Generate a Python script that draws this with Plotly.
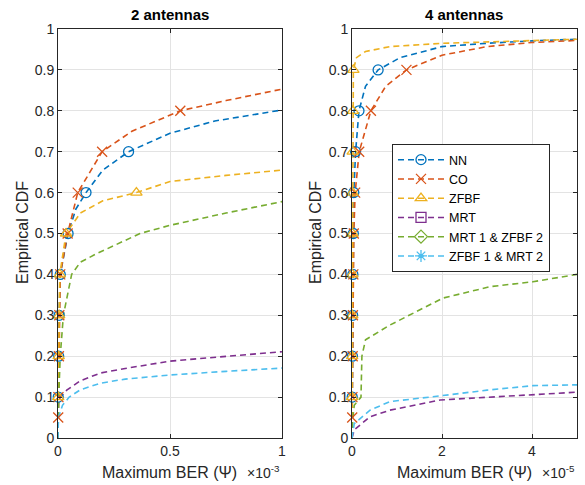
import numpy as np
import plotly.graph_objects as go

# ---------------- data (left: BER in units of 1e-3, right: BER in units of 1e-5) ----------------
series_names = ["NN", "CO", "ZFBF", "MRT", "MRT 1 & ZFBF 2", "ZFBF 1 & MRT 2"]
colors = ["#0072BD", "#D95319", "#EDB120", "#7E2F8E", "#77AC30", "#4DBEEE"]
symbols = ["circle-open", "x-thin-open", "triangle-up-open", "square-open", "diamond-open", "asterisk-open"]

# 2 antennas
L_NN_x = [0, 0.001, 0.003, 0.005, 0.01, 0.045, 0.08, 0.125, 0.2, 0.315, 0.5, 0.7, 1.0]
L_NN_y = [0, 0.1, 0.2, 0.3, 0.4, 0.5, 0.56, 0.6, 0.655, 0.7, 0.745, 0.775, 0.802]
L_CO_x = [0, 0.001, 0.002, 0.004, 0.006, 0.01, 0.043, 0.088, 0.197, 0.33, 0.546, 0.75, 1.0]
L_CO_y = [0, 0.05, 0.1, 0.2, 0.3, 0.4, 0.5, 0.6, 0.7, 0.75, 0.8, 0.825, 0.853]
L_ZF_x = [0, 0.001, 0.003, 0.005, 0.008, 0.036, 0.1, 0.2, 0.35, 0.5, 0.75, 1.0]
L_ZF_y = [0, 0.1, 0.2, 0.3, 0.4, 0.5, 0.55, 0.58, 0.6, 0.627, 0.642, 0.655]
L_MRT_x = [0, 0.002, 0.039, 0.1, 0.19, 0.3, 0.5, 0.75, 1.0]
L_MRT_y = [0, 0.095, 0.117, 0.14, 0.159, 0.17, 0.188, 0.2, 0.211]
L_MZ_x = [0, 0.003, 0.01, 0.024, 0.061, 0.1, 0.17, 0.25, 0.366, 0.5, 0.75, 1.0]
L_MZ_y = [0, 0.1, 0.2, 0.3, 0.4, 0.43, 0.45, 0.47, 0.5, 0.52, 0.55, 0.578]
L_ZM_x = [0, 0.002, 0.02, 0.05, 0.1, 0.19, 0.3, 0.5, 0.75, 1.0]
L_ZM_y = [0, 0.05, 0.08, 0.1, 0.118, 0.134, 0.144, 0.154, 0.163, 0.171]

# 4 antennas
R_NN_x = [0, 0.005, 0.01, 0.015, 0.02, 0.03, 0.04, 0.08, 0.155, 0.3, 0.58, 1.07, 2.0, 3.0, 4.0, 5.0]
R_NN_y = [0, 0.1, 0.2, 0.3, 0.4, 0.5, 0.6, 0.7, 0.8, 0.86, 0.9, 0.93, 0.957, 0.965, 0.971, 0.975]
R_CO_x = [0, 0.005, 0.01, 0.015, 0.02, 0.03, 0.04, 0.07, 0.16, 0.42, 0.75, 1.21, 2.0, 3.0, 4.0, 5.0]
R_CO_y = [0, 0.05, 0.1, 0.2, 0.3, 0.4, 0.5, 0.6, 0.7, 0.8, 0.86, 0.9, 0.936, 0.957, 0.967, 0.972]
R_ZF_x = [0, 0.002, 0.004, 0.006, 0.008, 0.01, 0.012, 0.015, 0.02, 0.03, 0.1, 0.3, 0.84, 2.0, 3.5, 5.0]
R_ZF_y = [0, 0.1, 0.2, 0.3, 0.4, 0.5, 0.6, 0.7, 0.8, 0.9, 0.93, 0.945, 0.957, 0.965, 0.97, 0.975]
R_MRT_x = [0, 0.05, 0.4, 0.84, 1.96, 3.0, 4.02, 5.0]
R_MRT_y = [0, 0.02, 0.052, 0.068, 0.093, 0.1, 0.107, 0.112]
R_MZ_x = [0, 0.02, 0.05, 0.2, 0.22, 0.3, 0.84, 1.73, 2.02, 3.07, 4.02, 5.0]
R_MZ_y = [0, 0.05, 0.08, 0.1, 0.2, 0.24, 0.276, 0.325, 0.342, 0.37, 0.382, 0.40]
R_ZM_x = [0, 0.02, 0.05, 0.4, 0.84, 1.96, 3.0, 4.02, 5.0]
R_ZM_y = [0, 0.02, 0.035, 0.068, 0.089, 0.103, 0.117, 0.128, 0.13]

# CDF levels where markers are drawn
L_marks = {"NN": [0.1, 0.2, 0.3, 0.4, 0.5, 0.6, 0.7],
           "CO": [0.05, 0.1, 0.2, 0.3, 0.4, 0.5, 0.6, 0.7, 0.8],
           "ZFBF": [0.1, 0.2, 0.3, 0.4, 0.5, 0.6]}
R_marks = {"NN": [0.1, 0.2, 0.3, 0.4, 0.5, 0.6, 0.7, 0.8, 0.9],
           "CO": [0.05, 0.1, 0.2, 0.3, 0.4, 0.5, 0.6, 0.7, 0.8, 0.9],
           "ZFBF": [0.1, 0.2, 0.3, 0.4, 0.5, 0.6, 0.7, 0.8, 0.9]}

left = [(L_NN_x, L_NN_y), (L_CO_x, L_CO_y), (L_ZF_x, L_ZF_y),
        (L_MRT_x, L_MRT_y), (L_MZ_x, L_MZ_y), (L_ZM_x, L_ZM_y)]
right = [(R_NN_x, R_NN_y), (R_CO_x, R_CO_y), (R_ZF_x, R_ZF_y),
         (R_MRT_x, R_MRT_y), (R_MZ_x, R_MZ_y), (R_ZM_x, R_ZM_y)]

DASH = "6px,4px"
fig = go.Figure()

def add_panel(curves, marks, xa, ya):
    for i, (xs, ys) in enumerate(curves):
        fig.add_trace(go.Scatter(x=xs, y=ys, mode="lines", xaxis=xa, yaxis=ya,
                                 line=dict(color=colors[i], width=1.6, dash=DASH),
                                 showlegend=False, hoverinfo="skip"))
    for i, name in enumerate(series_names):
        if name in marks:
            xs, ys = curves[i]
            lv = marks[name]
            mx = np.interp(lv, ys, xs)
            fig.add_trace(go.Scatter(x=mx, y=lv, mode="markers", xaxis=xa, yaxis=ya,
                                     cliponaxis=False,
                                     marker=dict(symbol=symbols[i], size=10, color=colors[i],
                                                 line=dict(color=colors[i], width=1.3)),
                                     showlegend=False, hoverinfo="skip"))

add_panel(left, L_marks, "x", "y")
add_panel(right, R_marks, "x2", "y2")

for i, name in enumerate(series_names):
    fig.add_trace(go.Scatter(x=[None], y=[None], mode="lines+markers", name=name,
                             xaxis="x2", yaxis="y2",
                             line=dict(color=colors[i], width=1.5, dash=DASH),
                             marker=dict(symbol=symbols[i], size=10, color=colors[i],
                                         line=dict(color=colors[i], width=1.3))))

FONT = "Liberation Sans, Arial, sans-serif"
yt = [round(0.1 * k, 1) for k in range(11)]
ytext = ["0"] + [f"{v:g}" for v in yt[1:]]
axcommon = dict(showline=True, linecolor="#262626", linewidth=1, mirror="ticks",
                ticks="inside", ticklen=4, tickcolor="#262626", automargin=False,
                showgrid=True, gridcolor="#e3e3e3", gridwidth=1, zeroline=False,
                tickfont=dict(size=14, color="#262626", family=FONT))

ML, MR, MT, MB = 58, 8, 29, 47
PW, PH = 585 - ML - MR, 485 - MT - MB

def px(xp):
    return (xp - ML) / PW

def py(yp):
    return (485 - MB - yp) / PH

def ann(text, x, y, size, color="#262626", angle=0, xanchor="center", yanchor="middle"):
    return dict(text=text, x=px(x), y=py(y), xref="paper", yref="paper", showarrow=False,
                textangle=angle, xanchor=xanchor, yanchor=yanchor,
                font=dict(size=size, color=color, family=FONT))

fig.update_layout(
    width=585, height=485, margin=dict(l=ML, r=MR, t=MT, b=MB, autoexpand=False),
    plot_bgcolor="white", paper_bgcolor="white",
    font=dict(family=FONT, color="#262626"),
    xaxis=dict(domain=[px(58), px(282)], range=[0, 1], tickvals=[0, 0.5, 1],
               ticktext=["0", "0.5", "1"], anchor="y", **axcommon),
    yaxis=dict(domain=[0, 1], range=[0, 1], tickvals=yt, ticktext=ytext, anchor="x", **axcommon),
    xaxis2=dict(domain=[px(352), px(577)], range=[0, 5], tickvals=[0, 2, 4],
                ticktext=["0", "2", "4"], anchor="y2", **axcommon),
    yaxis2=dict(domain=[0, 1], range=[0, 1], tickvals=yt, ticktext=ytext, anchor="x2", **axcommon),
    legend=dict(x=px(392), y=py(144), xanchor="left", yanchor="top",
                bgcolor="white", bordercolor="#262626", borderwidth=1,
                font=dict(size=12.5, family=FONT, color="#000"), tracegroupgap=0,
                itemwidth=46),
    annotations=[
        ann("<b>2 antennas</b>", 170, 15, 15, "#000"),
        ann("<b>4 antennas</b>", 464, 15, 15, "#000"),
        ann("Maximum BER (Ψ)", 169, 473, 16),
        ann("Maximum BER (Ψ)", 464, 473, 16),
        ann("Empirical CDF", 22, 233, 16, angle=-90),
        ann("Empirical CDF", 315, 233, 16, angle=-90),
        ann("×10<sup>-3</sup>", 282, 472, 14, xanchor="right"),
        ann("×10<sup>-5</sup>", 577, 472, 14, xanchor="right"),
    ],
)

fig.write_html("out.html", config={"displayModeBar": False},
               post_script="document.body.style.margin='0px';")
